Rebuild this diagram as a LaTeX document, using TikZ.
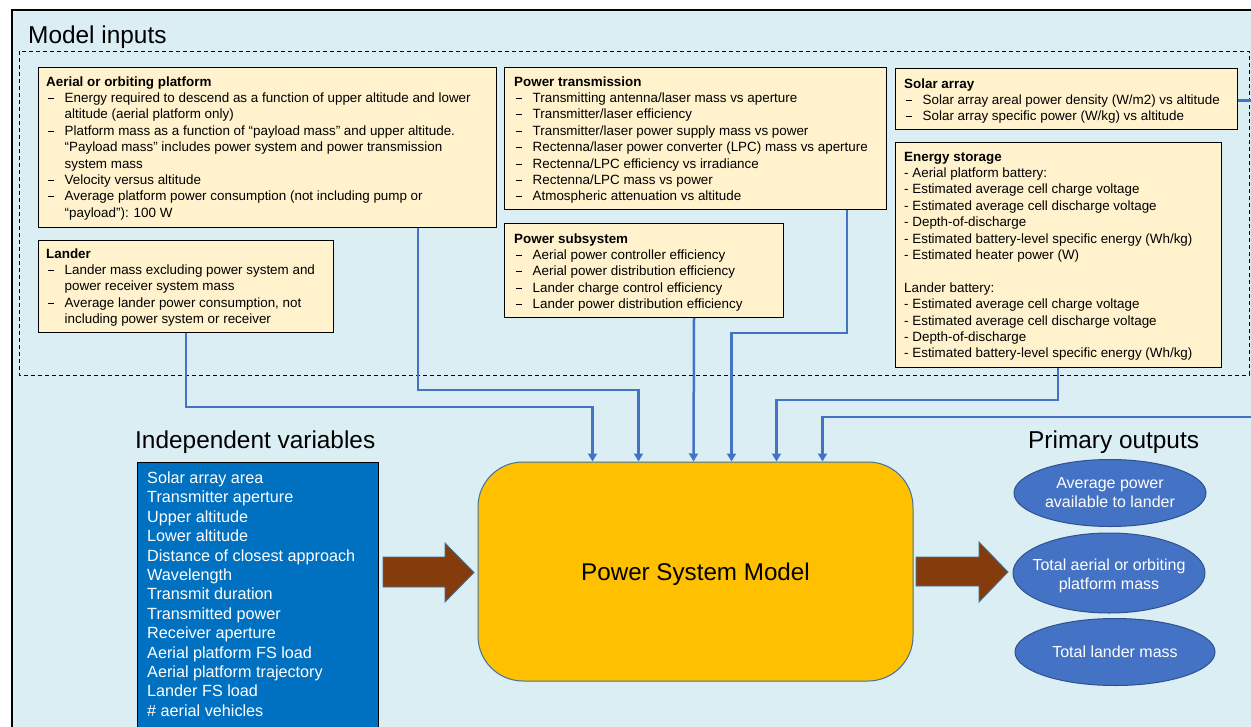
\documentclass[tikz,border=0pt]{standalone}
\usepackage{fontspec}
\setmainfont{Liberation Sans}
\usetikzlibrary{arrows.meta,shapes.geometric}
\definecolor{bgblue}{HTML}{DAEEF3}
\definecolor{boxfill}{HTML}{FFF2CC}
\definecolor{ivfill}{HTML}{0070C0}
\definecolor{modelfill}{HTML}{FFC000}
\definecolor{outfill}{HTML}{4472C4}
\definecolor{outline}{HTML}{2F528F}
\definecolor{modeline}{HTML}{41719C}
\definecolor{connblue}{HTML}{4472C4}
\definecolor{arrowbrown}{HTML}{843C0C}
\newcommand\bfnt{\fontsize{13.4}{16.4}\selectfont}
\newcommand\dsh{\makebox[18.5pt][l]{\hspace{2pt}\rule[3.6pt]{6pt}{0.8pt}}}
\newcommand\indt{\hspace*{18.5pt}}
\tikzset{
  inbox/.style={draw=black, line width=1.2pt, fill=boxfill, rectangle, anchor=north west, inner sep=0pt},
  boxtext/.style={anchor=base west, inner sep=0pt, font=\bfnt},
  conn/.style={draw=connblue, line width=2.5pt, -{Triangle[width=9pt,length=8pt]}},
  heading/.style={anchor=base west, inner sep=0pt, font=\fontsize{24.4}{28}\selectfont},
  outell/.style={ellipse, draw=outline, line width=1pt, fill=outfill, text=white, align=center, inner xsep=-12pt, inner ysep=0pt, font=\fontsize{16}{18.7}\selectfont},
  blockarrow/.style={fill=arrowbrown, draw=modeline, line width=0.8pt}
}
\begin{document}
\begin{tikzpicture}[x=1pt,y=-1pt]
\useasboundingbox (0,0) rectangle (1251,726);
\clip (0,0) rectangle (1251,726);
\fill[white] (0,0) rectangle (1251,726);
% outer frame
\draw[fill=bgblue, line width=1.5pt] (12,10) rectangle (1275,760);
\node[heading] (mi) at (28,43) {Model inputs};
% dashed region
\draw[line width=1pt, dash pattern=on 4pt off 3pt] (19,51) rectangle (1249,375);

% input boxes
\node[inbox, minimum width=458pt, minimum height=160pt] (aer) at (38,67) {};
\node[boxtext] (aert) at (46,86) {\begin{minipage}[t]{460pt}
\textbf{Aerial or orbiting platform}\\
\dsh Energy required to descend as a function of upper altitude and lower\\
\indt altitude (aerial platform only)\\
\dsh Platform mass as a function of “payload mass" and upper altitude.\\
\indt “Payload mass" includes power system and power transmission\\
\indt system mass\\
\dsh Velocity versus altitude\\
\dsh Average platform power consumption (not including pump or\\
\indt “payload"): 100 W
\end{minipage}};

\node[inbox, minimum width=295pt, minimum height=92pt] (lan) at (38,240) {};
\node[boxtext] (lant) at (46,258) {\begin{minipage}[t]{300pt}
\textbf{Lander}\\
\dsh Lander mass excluding power system and\\
\indt power receiver system mass\\
\dsh Average lander power consumption, not\\
\indt including power system or receiver
\end{minipage}};

\node[inbox, minimum width=382pt, minimum height=142pt] (pt) at (504,67) {};
\node[boxtext] (ptt) at (514,86) {\begin{minipage}[t]{400pt}
\textbf{Power transmission}\\
\dsh Transmitting antenna/laser mass vs aperture\\
\dsh Transmitter/laser efficiency\\
\dsh Transmitter/laser power supply mass vs power\\
\dsh Rectenna/laser power converter (LPC) mass vs aperture\\
\dsh Rectenna/LPC efficiency vs irradiance\\
\dsh Rectenna/LPC mass vs power\\
\dsh Atmospheric attenuation vs altitude
\end{minipage}};

\node[inbox, minimum width=279pt, minimum height=94pt] (ps) at (504,223) {};
\node[boxtext] (pst) at (514,243) {\begin{minipage}[t]{300pt}
\textbf{Power subsystem}\\
\dsh Aerial power controller efficiency\\
\dsh Aerial power distribution efficiency\\
\dsh Lander charge control efficiency\\
\dsh Lander power distribution efficiency
\end{minipage}};

\node[inbox, minimum width=342pt, minimum height=61pt] (sol) at (895,68) {};
\node[boxtext] (solt) at (904,88) {\begin{minipage}[t]{340pt}
\textbf{Solar array}\\
\dsh Solar array areal power density (W/m2) vs altitude\\
\dsh Solar array specific power (W/kg) vs altitude
\end{minipage}};

\node[inbox, minimum width=326pt, minimum height=225pt] (es) at (895,142) {};
\node[boxtext] (est) at (904,161) {\begin{minipage}[t]{330pt}
\textbf{Energy storage}\\
- Aerial platform battery:\\
- Estimated average cell charge voltage\\
- Estimated average cell discharge voltage\\
- Depth-of-discharge\\
- Estimated battery-level specific energy (Wh/kg)\\
- Estimated heater power (W)\\
\mbox{}\\
Lander battery:\\
- Estimated average cell charge voltage\\
- Estimated average cell discharge voltage\\
- Depth-of-discharge\\
- Estimated battery-level specific energy (Wh/kg)
\end{minipage}};

% independent variables
\node[heading] (ivh) at (135,448) {Independent variables};
\node[draw=black, line width=1.2pt, fill=ivfill, rectangle, anchor=north west, inner sep=0pt, minimum width=241pt, minimum height=300pt] (iv) at (137,462) {};
\node[anchor=base west, inner sep=0pt, text=white, font=\fontsize{16.2}{19.4}\selectfont] (ivt) at (147,483.5) {\begin{minipage}[t]{230pt}
Solar array area\\
Transmitter aperture\\
Upper altitude\\
Lower altitude\\
Distance of closest approach\\
Wavelength\\
Transmit duration\\
Transmitted power\\
Receiver aperture\\
Aerial platform FS load\\
Aerial platform trajectory\\
Lander FS load\\
\# aerial vehicles
\end{minipage}};

% model
\node[draw=modeline, line width=1pt, fill=modelfill, rounded corners=45pt, minimum width=435pt, minimum height=219pt, inner sep=0pt, font=\fontsize{24.2}{28}\selectfont] (model) at (695.5,571.5) {\raisebox{-3pt}[\height][\depth]{Power System Model}};

% block arrows
\path[blockarrow] (383,557) -- (445,557) -- (445,543) -- (474,572.5) -- (445,602) -- (445,587) -- (383,587) -- cycle;
\path[blockarrow] (916,557) -- (979,557) -- (979,542) -- (1008,572) -- (979,602) -- (979,586) -- (916,586) -- cycle;

% outputs
\node[heading] (poh) at (1028,448) {Primary outputs};
\node[outell, minimum width=192pt, minimum height=67pt] (o1) at (1110,493) {\raisebox{-1pt}[\height][\depth]{\begin{tabular}{@{}c@{}}Average power\\available to lander\end{tabular}}};
\node[outell, minimum width=192pt, minimum height=80pt] (o2) at (1109,573) {\raisebox{-3pt}[\height][\depth]{\begin{tabular}{@{}c@{}}Total aerial or orbiting\\platform mass\end{tabular}}};
\node[outell, minimum width=200pt, minimum height=67pt] (o3) at (1115,652) {Total lander mass};

% connectors
\coordinate (sout) at (1260,97);
\coordinate (rin) at (1260,417);
\draw[draw=connblue, line width=2.5pt] ([yshift=-1.5pt]sol.east) -- ([yshift=-1.5pt]sol.east -| sout);
\draw[conn] ([xshift=148pt]lan.south west) -- ++(0,74) -| ([xshift=115pt]model.north west);
\draw[conn] ([xshift=380pt]aer.south west) -- ++(0,162) -| ([xshift=161pt]model.north west);
\draw[conn] ([xshift=190pt]ps.south west) -- ([xshift=216pt]model.north west);
\draw[conn] ([xshift=343pt]pt.south west) -- ++(0,123) -| ([xshift=254pt]model.north west);
\draw[conn] ([xshift=163pt]es.south west) -- ++(0,32) -| ([xshift=299pt]model.north west);
\draw[conn] (rin) -| ([xshift=345pt]model.north west);
\end{tikzpicture}
\end{document}
